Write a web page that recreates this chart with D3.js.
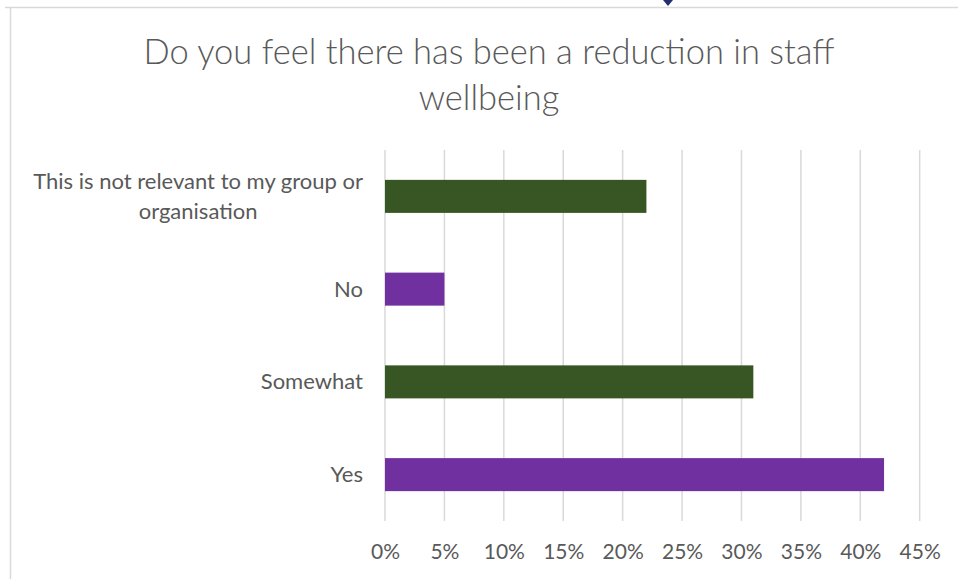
<!DOCTYPE html>
<html>
<head>
<meta charset="utf-8">
<script src="https://cdn.jsdelivr.net/npm/d3@7"></script>
<style>
  body { margin: 0; background: #fff; }
  text { font-family: Lato, "Open Sans", sans-serif; fill: #595959; }
</style>
</head>
<body>
<div id="chart-area"></div>
<script>
var categories = ["This is not relevant to my group or organisation", "No", "Somewhat", "Yes"];
var values = [0.22, 0.05, 0.31, 0.42];
var barColors = ["#375623", "#7030a0", "#375623", "#7030a0"];
var tickValues = [0, 0.05, 0.10, 0.15, 0.20, 0.25, 0.30, 0.35, 0.40, 0.45];
var titleLines = ["Do you feel there has been a reduction in staff", "wellbeing"];

var width = 958;
var height = 579;
var plot = {left: 385, right: 919.7, top: 150, bottom: 521};

var svg = d3.select("#chart-area").append("svg")
    .attr("width", width)
    .attr("height", height);

// chart frame (only top and left edges are visible in the crop)
svg.append("line")
    .attr("x1", 5).attr("x2", width)
    .attr("y1", 7.5).attr("y2", 7.5)
    .attr("stroke", "#d9d9d9").attr("stroke-width", 1.5);
svg.append("line")
    .attr("x1", 10.5).attr("x2", 10.5)
    .attr("y1", 7).attr("y2", height)
    .attr("stroke", "#d9d9d9").attr("stroke-width", 1.5);
// bit of a logo peeking in from above
svg.append("path")
    .attr("d", "M663,0 L673,0 L668,6 Z")
    .attr("fill", "#1f2f6b");

var x = d3.scaleLinear()
    .domain([0, 0.45])
    .range([plot.left, plot.right]);
var y = d3.scaleBand()
    .domain(categories)
    .range([plot.top, plot.bottom])
    .paddingInner(0.644)
    .paddingOuter(0.322);

// title
svg.append("text")
    .attr("text-anchor", "middle")
    .attr("x", 489)
    .attr("y", 64)
    .style("font-size", "34.5px")
    .style("font-weight", 300)
    .selectAll("tspan")
    .data(titleLines)
    .enter()
    .append("tspan")
    .attr("x", 489)
    .attr("dy", (d, i) => { return i == 0 ? 0 : 46; })
    .text((d) => { return d; });

// gridlines
svg.append("g")
    .selectAll("line")
    .data(tickValues)
    .enter()
    .append("line")
    .attr("x1", (d) => { return x(d); })
    .attr("x2", (d) => { return x(d); })
    .attr("y1", plot.top)
    .attr("y2", plot.bottom)
    .attr("stroke", "#d9d9d9")
    .attr("stroke-width", 1.5);

// x axis labels
var xAxis = svg.append("g")
    .attr("transform", "translate(0," + plot.bottom + ")")
    .call(d3.axisBottom(x).tickValues(tickValues).tickSize(0).tickPadding(23)
        .tickFormat((d) => { return Math.round(d * 100) + "%"; }));
xAxis.select(".domain").remove();
xAxis.selectAll("text")
    .style("font-size", "21px")
    .attr("font-family", null)
    .attr("fill", "#595959");

// bars
svg.selectAll("rect.bar")
    .data(values)
    .enter()
    .append("rect")
    .attr("class", "bar")
    .attr("x", x(0))
    .attr("y", (d, i) => { return y(categories[i]); })
    .attr("width", (d) => { return x(d) - x(0); })
    .attr("height", y.bandwidth())
    .attr("fill", (d, i) => { return barColors[i]; });

// category labels, long one wraps onto two centred lines
var wrapped = {"This is not relevant to my group or organisation": ["This is not relevant to my group or", "organisation"]};
categories.forEach((c) => {
    var lines = wrapped[c] || [c];
    var cy = y(c) + y.bandwidth() / 2;
    var g = svg.append("g");
    var t = g.append("text")
        .attr("text-anchor", "middle")
        .style("font-size", "22px");
    lines.forEach((l, i) => {
        t.append("tspan")
            .attr("x", 0)
            .attr("y", cy + 7.5 + (i - (lines.length - 1) / 2) * 30)
            .text(l);
    });
    var w = t.node().getBBox().width;
    g.attr("transform", "translate(" + (363 - w / 2) + ",0)");
});
</script>
</body>
</html>
